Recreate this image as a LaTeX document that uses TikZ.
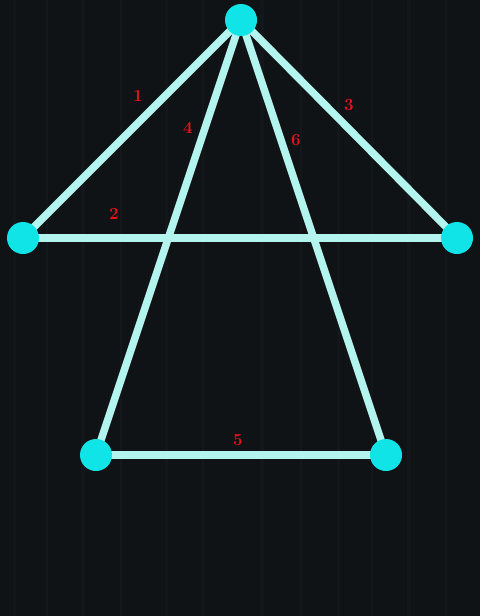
\documentclass[tikz,border=0pt]{standalone}
\usepackage{tikz}
\usepackage{xcolor}
\usetikzlibrary{arrows.meta}

\definecolor{board}{HTML}{101316}
\definecolor{grain}{HTML}{1A1F26}
\definecolor{rod}{HTML}{B4F4EE}
\definecolor{ball}{HTML}{10E4E6}
\definecolor{mark}{HTML}{E8121C}

\begin{document}
\begin{tikzpicture}[x=1pt,y=-1pt,
    rodline/.style={rod,line width=7.5pt},
    ballnode/.style={circle,fill=ball,minimum size=32pt,inner sep=0pt},
    numlabel/.style={text=mark,font=\fontsize{17}{17}\selectfont\bfseries,inner sep=0pt}]
        % board
        \fill[board] (0,0) rectangle (480,616);
        \useasboundingbox (0,0) rectangle (480,616);
        \foreach \x/\w in {14/3,47/2,83/4,121/2,166/3,203/2,262/4,301/2,338/3,372/2,409/4,446/2}
            \draw[grain,line width=\w pt,opacity=0.35] (\x,0) -- (\x,616);

        \coordinate (T)  at (241,20);
        \coordinate (L)  at (23,238);
        \coordinate (R)  at (457,238);
        \coordinate (BL) at (96,455);
        \coordinate (BR) at (386,455);

        \draw[rodline] (T) -- (L);
        \draw[rodline] (L) -- (R);
        \draw[rodline] (T) -- (R);
        \draw[rodline] (T) -- (BL);
        \draw[rodline] (BL) -- (BR);
        \draw[rodline] (T) -- (BR);

        \node[ballnode] (top)   at (T)  {};
        \node[ballnode] (left)  at (L)  {};
        \node[ballnode] (right) at (R)  {};
        \node[ballnode] (botl)  at (BL) {};
        \node[ballnode] (botr)  at (BR) {};

        \node[numlabel] (n1) at (138,96)  {1};
        \node[numlabel] (n2) at (114,214) {2};
        \node[numlabel] (n3) at (349,105) {3};
        \node[numlabel] (n4) at (188,128) {4};
        \node[numlabel] (n5) at (238,440) {5};
        \node[numlabel] (n6) at (296,140) {6};
    \end{tikzpicture}
\end{document}
